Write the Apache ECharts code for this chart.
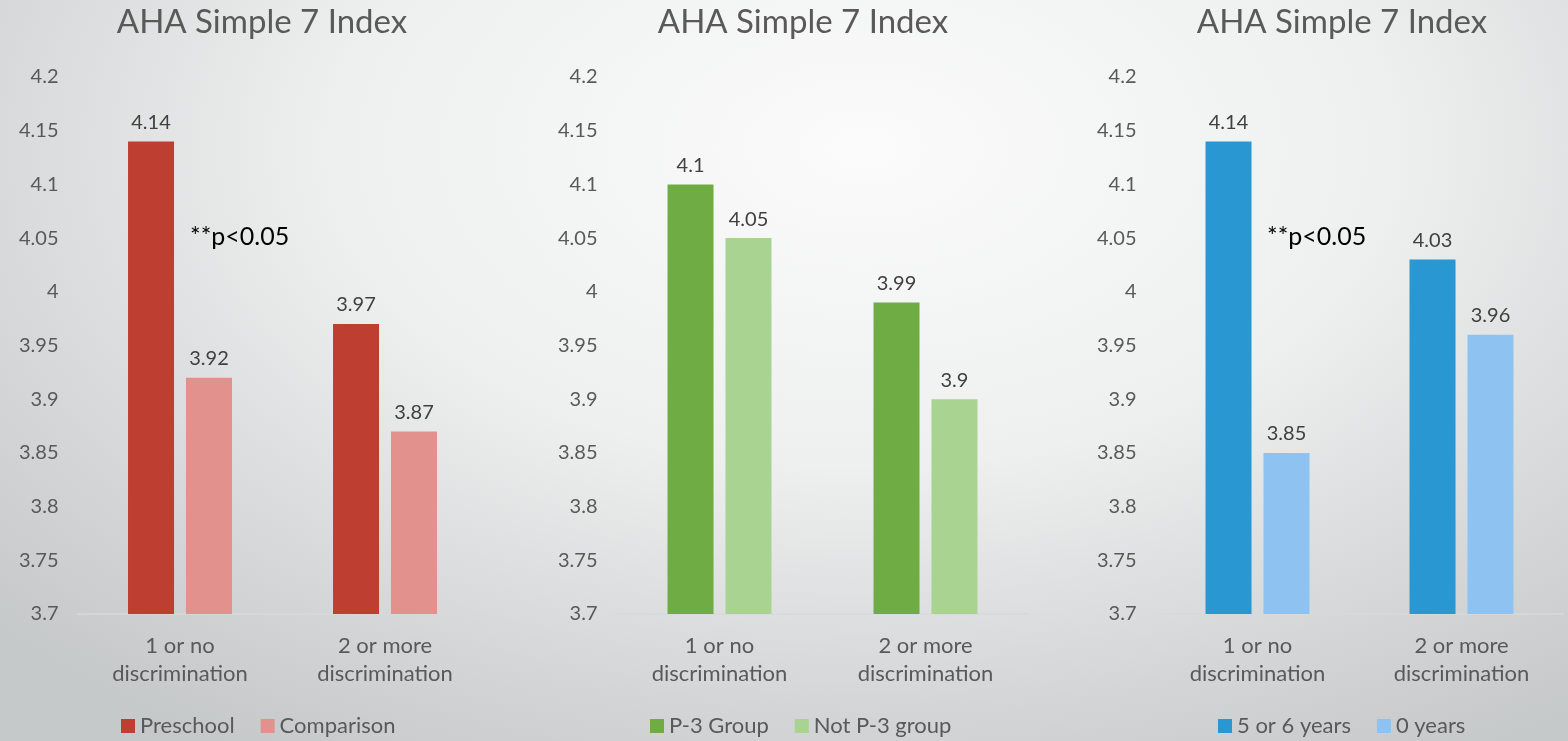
<!DOCTYPE html>
<html>
<head>
<meta charset="utf-8">
<script src="https://cdn.jsdelivr.net/npm/echarts@6/dist/echarts.min.js"></script>
<style>
html,body{margin:0;padding:0;width:1568px;height:741px;overflow:hidden;}
body{background:radial-gradient(ellipse 75% 95% at 55% 20%, #fbfbfb 0%, #eeefef 45%, #d3d5d6 80%, #c6c9ca 100%);}
#c{width:1568px;height:741px;}
</style>
</head>
<body>
<div id="c"></div>
<script>
const categories = ['1 or no\ndiscrimination', '2 or more\ndiscrimination'];
const chartTitle = 'AHA Simple 7 Index';
const yTicks = { min: 3.7, max: 4.2, interval: 0.05 };

const preschool = [4.14, 3.97];
const comparison = [3.92, 3.87];
const p3Group = [4.10, 3.99];
const notP3Group = [4.05, 3.90];
const years56 = [4.14, 4.03];
const years0 = [3.85, 3.96];

const panelSeries = [
  [{ name: 'Preschool', data: preschool, color: '#BE3F32' }, { name: 'Comparison', data: comparison, color: '#E3918C' }],
  [{ name: 'P-3 Group', data: p3Group, color: '#70AC44' }, { name: 'Not P-3 group', data: notP3Group, color: '#A9D390' }],
  [{ name: '5 or 6 years', data: years56, color: '#2997D2' }, { name: '0 years', data: years0, color: '#8EC3F1' }]
];
const annotations = ['**p<0.05', '', '**p<0.05'];

const FONT = 'Lato, "Open Sans", sans-serif';
const panels = [
  { left: 77.5, width: 410, titleX: 257, legendX: 121, noteX: 190 },
  { left: 616.5, width: 412, titleX: 798, legendX: 650, noteX: 0 },
  { left: 1155.5, width: 408, titleX: 1337, legendX: 1218, noteX: 1267 }
];

const option = {
  backgroundColor: 'transparent',
  animation: false,
  textStyle: { fontFamily: FONT },
  title: panels.map(p => ({
    text: chartTitle, left: p.titleX, top: 1, textAlign: 'center',
    textStyle: { fontFamily: FONT, fontSize: 33, fontWeight: 'normal', color: '#595959' }
  })),
  grid: panels.map(p => ({ left: p.left, width: p.width, top: 77, bottom: 127, containLabel: false })),
  xAxis: panels.map((p, i) => ({
    type: 'category', gridIndex: i, data: categories,
    axisLine: { lineStyle: { color: '#d9d9d9', width: 1.5 } },
    axisTick: { show: false },
    axisLabel: { fontFamily: FONT, fontSize: 22, color: '#595959', lineHeight: 28, margin: 18 }
  })),
  yAxis: panels.map((p, i) => ({
    type: 'value', gridIndex: i, min: yTicks.min, max: yTicks.max, interval: yTicks.interval,
    axisLine: { show: false }, axisTick: { show: false }, splitLine: { show: false },
    axisLabel: { fontFamily: FONT, fontSize: 20, color: '#595959', margin: 19,
      formatter: v => String(Math.round(v * 100) / 100) }
  })),
  legend: panels.map((p, i) => ({
    left: p.legendX, top: 711, padding: 0, itemWidth: 14, itemHeight: 14, itemGap: 26, icon: 'rect',
    textStyle: { fontFamily: FONT, fontSize: 22, color: '#595959', lineHeight: 30 },
    data: panelSeries[i].map(s => s.name)
  })),
  series: panelSeries.flatMap((pair, i) => pair.map(s => ({
    type: 'bar', name: s.name, xAxisIndex: i, yAxisIndex: i, data: s.data,
    barWidth: 46, barGap: '26%',
    itemStyle: { color: s.color },
    label: { show: true, position: 'top', distance: 9, fontFamily: FONT, fontSize: 20, color: '#404040' }
  }))),
  graphic: panels.map((p, i) => annotations[i] ? ({
    type: 'text', left: p.noteX, top: 224,
    style: { text: annotations[i], font: '25px ' + FONT, fill: '#000000' }
  }) : null).filter(Boolean)
};

const chart = echarts.init(document.getElementById('c'), null, { renderer: 'canvas' });
chart.setOption(option);
</script>
</body>
</html>
